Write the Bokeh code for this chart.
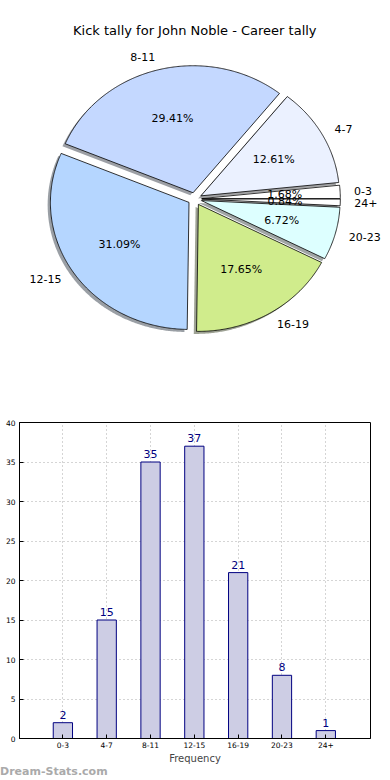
import numpy as np
from bokeh.plotting import figure
from bokeh.models import Range1d, FixedTicker, ColumnDataSource, Div
from bokeh.core.properties import value
from bokeh.embed import file_html
from bokeh.resources import INLINE

# ---- data ----
title_text = "Kick tally for John Noble - Career tally"
categories = ["0-3", "4-7", "8-11", "12-15", "16-19", "20-23", "24+"]
counts = [2, 15, 35, 37, 21, 8, 1]
slice_colors = ["#ffffff", "#ebf1ff", "#c4d8ff", "#b5d6ff", "#d0ec8c", "#ddffff", "#ffffff"]
y_ticks = [0, 5, 10, 15, 20, 25, 30, 35, 40]
xlabel = "Frequency"
watermark = "Dream-Stats.com"

FONT = "DejaVu Sans"
W = 390

# ---------------- pie ----------------
explode = 0.05
p1 = figure(width=W, height=400, output_backend="svg", toolbar_location=None,
            x_range=Range1d(-1.402, 1.412), y_range=Range1d(-1.587, 1.562),
            x_axis_location=None, y_axis_location=None,
            min_border=0, min_border_left=0, min_border_right=0,
            min_border_top=0, min_border_bottom=0)
p1.grid.visible = False
p1.outline_line_color = None
p1.title.visible = False

total = float(sum(counts))
fracs = np.array(counts) / total
ends = np.cumsum(fracs) * 360.0
starts = np.concatenate([[0.0], ends[:-1]])

sx, sy, wx, wy = [], [], [], []
shadow_cols = []
lab_x, lab_y, lab_t, lab_al = [], [], [], []
pct_x, pct_y, pct_t = [], [], []
for s, e, c, cat, f in zip(starts, ends, slice_colors, categories, fracs):
    mid = np.deg2rad((s + e) / 2)
    ox, oy = explode * np.cos(mid), explode * np.sin(mid)
    th = np.deg2rad(np.linspace(s, e, max(8, int((e - s) * 2))))
    xs = [ox] + list(ox + np.cos(th)) + [ox]
    ys = [oy] + list(oy + np.sin(th)) + [oy]
    wx.append(xs)
    wy.append(ys)
    sx.append([v - 0.02 for v in xs])
    sy.append([v - 0.02 for v in ys])
    r, g, b = int(c[1:3], 16), int(c[3:5], 16), int(c[5:7], 16)
    shadow_cols.append("#%02x%02x%02x" % (int(r * 0.3), int(g * 0.3), int(b * 0.3)))
    lx = ox + 1.1 * np.cos(mid)
    ly = oy + 1.1 * np.sin(mid)
    lab_x.append(lx); lab_y.append(ly); lab_t.append(cat)
    lab_al.append("left" if lx > 0 else "right")
    pct_x.append(ox + 0.6 * np.cos(mid)); pct_y.append(oy + 0.6 * np.sin(mid))
    pct_t.append("%.2f%%" % (f * 100))

p1.patches(sx, sy, fill_color=shadow_cols, fill_alpha=0.5, line_color=None)
p1.patches(wx, wy, fill_color=slice_colors, line_color="black", line_width=0.8)

for lx, ly, t, al in zip(lab_x, lab_y, lab_t, lab_al):
    p1.text(x=[lx], y=[ly], text=[t], text_align=al, text_baseline="middle",
            text_font=value(FONT), text_font_size="11px", text_color="black")
p1.text(x=pct_x, y=pct_y, text=pct_t, text_align="center", text_baseline="middle",
        text_font=value(FONT), text_font_size="11px", text_color="black")
p1.text(x=[0.0], y=[1.326], text=[title_text], text_align="center", text_baseline="middle",
        text_font=value(FONT), text_font_size="13px", text_color="black")

# ---------------- bars ----------------
xs_idx = list(range(len(categories)))
p2 = figure(width=W, height=366, output_backend="svg", toolbar_location=None,
            x_range=Range1d(-0.99, 7.02), y_range=Range1d(0, 40),
            min_border_top=22, min_border_right=20, min_border_left=19, min_border_bottom=26)
p2.outline_line_color = "black"
p2.outline_line_width = 1

src = ColumnDataSource(dict(x=xs_idx, top=counts, lbl=[str(c) for c in counts]))
p2.vbar(x="x", top="top", width=0.44, bottom=0, source=src,
        fill_color="#cdcde4", line_color="#000080", line_width=1)
p2.text(x="x", y="top", text="lbl", source=src, text_align="center", text_baseline="bottom",
        y_offset=-4, text_font=value(FONT), text_font_size="11px", text_color="#000080")

p2.xaxis.ticker = FixedTicker(ticks=xs_idx)
p2.xaxis.major_label_overrides = {i: c for i, c in zip(xs_idx, categories)}
p2.yaxis.ticker = FixedTicker(ticks=y_ticks)
for ax in (p2.xaxis, p2.yaxis):
    ax.major_tick_in = 4
    ax.major_tick_out = 0
    ax.minor_tick_line_color = None
    ax.major_label_text_font = FONT
    ax.major_label_text_font_size = "7.5px"
    ax.major_label_standoff = 4
    ax.axis_line_color = "black"
    ax.major_tick_line_color = "black"
    ax.major_label_text_color = "black"
p2.xaxis.major_label_standoff = 3
p2.xaxis.axis_label = xlabel
p2.xaxis.axis_label_text_font = FONT
p2.xaxis.axis_label_text_font_size = "10px"
p2.xaxis.axis_label_text_font_style = "normal"
p2.xaxis.axis_label_standoff = 2
p2.xgrid.ticker = FixedTicker(ticks=xs_idx)
p2.ygrid.ticker = FixedTicker(ticks=y_ticks)
p2.grid.grid_line_color = "#aaaaaa"
p2.grid.grid_line_dash = "1 3"
p2.grid.grid_line_width = 1

wm = Div(text=watermark, width=W, height=14, margin=0,
         styles={"font-family": FONT, "font-weight": "bold", "font-size": "11px",
                 "color": "#aaaaaa", "line-height": "12px", "padding-left": "0px"})

# separate roots so that the frames of the two figures are not aligned to each other
open("out.html", "w").write(file_html([p1, p2, wm], INLINE))
